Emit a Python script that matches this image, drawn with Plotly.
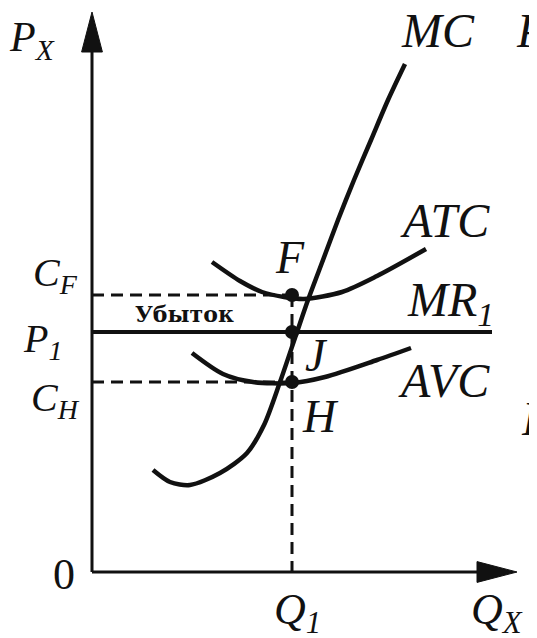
import plotly.graph_objects as go

# quantities / prices (diagram units)
Q1 = 10.0
P1 = 12.0
C_F = 13.85
C_H = 9.5
Q_MAX = 21.25
P_MAX = 28.0
MR_END = 20.0

mc_q = [3.05, 3.9, 4.9, 6.4, 7.75, 8.6, 9.4, 10.25, 10.8, 11.55, 12.3, 13.1, 13.95, 14.8, 15.65]
mc_p = [5.1, 4.5, 4.35, 4.95, 5.95, 7.35, 9.5, 12.0, 13.6, 15.6, 17.6, 19.6, 21.6, 23.6, 25.4]

atc_q = [6.0, 7.4, 8.5, 9.6, 10.6, 12.5, 14.25, 16.7]
atc_p = [15.5, 14.55, 14.0, 13.75, 13.65, 14.0, 14.8, 16.15]

avc_q = [5.0, 6.55, 8.05, 10.0, 11.65, 14.25, 15.95]
avc_p = [10.95, 9.9, 9.5, 9.45, 9.75, 10.6, 11.2]

INK = "#111111"
SERIF = "Liberation Serif, Times New Roman, serif"

fig = go.Figure()

def line(x, y, width=4, dash="solid", shape="linear"):
    fig.add_trace(go.Scatter(x=x, y=y, mode="lines",
                             line=dict(color=INK, width=width, dash=dash, shape=shape, smoothing=0.8),
                             hoverinfo="skip", showlegend=False))

# axes with arrow heads
line([0, 0], [0, P_MAX - 1.5], width=3)
line([0, Q_MAX - 1.5], [0, 0], width=3)
hl, hw = 2.0, 0.52
fig.add_trace(go.Scatter(x=[0, -hw, hw, 0], y=[P_MAX, P_MAX - hl, P_MAX - hl, P_MAX],
                         fill="toself", fillcolor=INK, mode="lines", line=dict(color=INK, width=1),
                         hoverinfo="skip", showlegend=False))
fig.add_trace(go.Scatter(x=[Q_MAX, Q_MAX - hl, Q_MAX - hl, Q_MAX], y=[0, -hw, hw, 0],
                         fill="toself", fillcolor=INK, mode="lines", line=dict(color=INK, width=1),
                         hoverinfo="skip", showlegend=False))

# dashed guides
line([0, Q1], [C_F, C_F], width=3, dash="12px,7px")
line([0, Q1], [C_H, C_H], width=3, dash="12px,7px")
line([Q1, Q1], [C_F, 0], width=3, dash="12px,7px")

# MR1 = P1
line([0, MR_END], [P1, P1], width=4)

# cost curves
line(mc_q, mc_p, width=4.5, shape="spline")
line(atc_q, atc_p, width=4.5, shape="spline")
line(avc_q, avc_p, width=4.5, shape="spline")

# points F, J, H
fig.add_trace(go.Scatter(x=[Q1, Q1, Q1], y=[C_F, P1, C_H], mode="markers",
                         marker=dict(color=INK, size=14), hoverinfo="skip", showlegend=False))

labels = [
    ("<i>P<sub>X</sub></i>", -3.0, 26.6, 42, "center"),
    ("<i>MC</i>", 17.3, 27.1, 48, "center"),
    ("<i>P</i>", 21.1, 27.1, 48, "left"),
    ("<i>ATC</i>", 17.65, 17.6, 48, "center"),
    ("<i>MR<sub>1</sub></i>", 17.9, 13.45, 48, "center"),
    ("<i>AVC</i>", 17.6, 9.6, 48, "center"),
    ("<i>F</i>", 9.9, 15.75, 46, "center"),
    ("<i>J</i>", 11.2, 10.85, 46, "center"),
    ("<i>H</i>", 11.4, 7.8, 46, "center"),
    ("<i>C<sub>F</sub></i>", -0.6, 14.85, 40, "right"),
    ("<i>P<sub>1</sub></i>", -1.4, 11.55, 40, "right"),
    ("<i>C<sub>H</sub></i>", -0.5, 8.6, 40, "right"),
    ("0", -1.4, -0.1, 44, "center"),
    ("<i>Q<sub>1</sub></i>", 10.25, -2.0, 44, "center"),
    ("<i>Q<sub>X</sub></i>", 20.25, -2.0, 44, "center"),
    ("<i>P</i>", 21.35, 7.7, 48, "left"),
]
for txt, x, y, size, anchor in labels:
    fig.add_annotation(x=x, y=y, text=txt, showarrow=False, xanchor=anchor, yanchor="middle",
                       font=dict(family=SERIF, size=size, color=INK))

fig.add_annotation(x=4.6, y=12.9, text="<b>Убыток</b>", showarrow=False,
                   font=dict(family="DejaVu Serif, serif", size=22, color=INK))

# the page body has an 8px margin, so the ranges are shifted by 8px (0.4 units)
fig.update_layout(width=537, height=638, margin=dict(l=0, r=0, t=0, b=0),
                  paper_bgcolor="white", plot_bgcolor="white", showlegend=False)
fig.update_xaxes(range=[-4.2, 22.65], visible=False, fixedrange=True)
fig.update_yaxes(range=[-3.7, 28.2], visible=False, fixedrange=True)

fig.write_html("out.html", config={"displayModeBar": False})
